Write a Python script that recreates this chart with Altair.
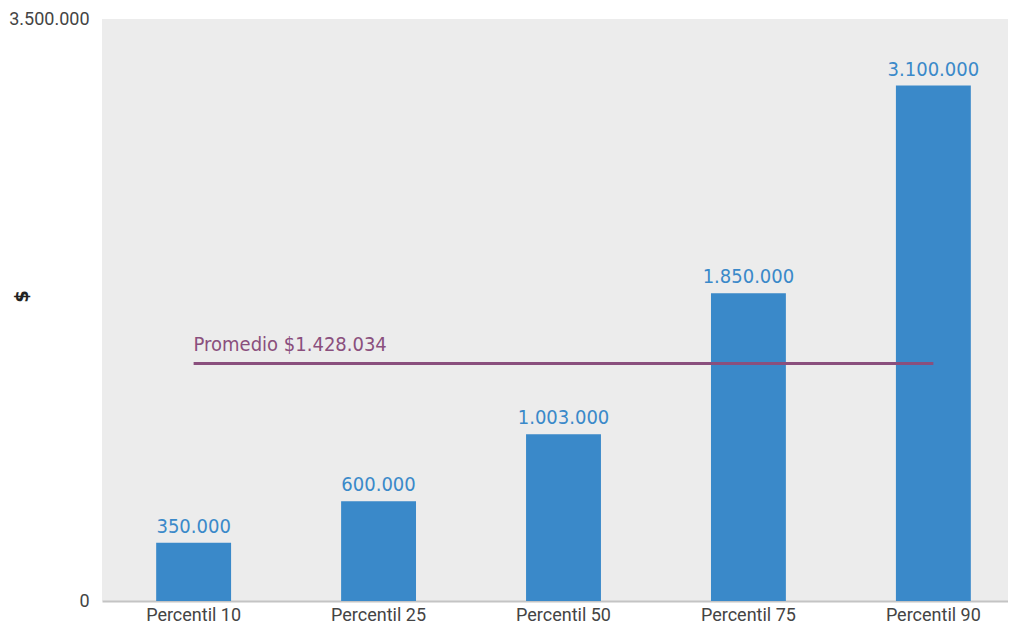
import altair as alt
import pandas as pd

categories = ["Percentil 10", "Percentil 25", "Percentil 50", "Percentil 75", "Percentil 90"]
values = [350000, 600000, 1003000, 1850000, 3100000]
mean_value = 1428034
mean_label = "Promedio $1.428.034"
y_ticks = [0, 3500000]

df = pd.DataFrame({"cat": categories, "val": values})
df["lbl"] = [f"{v:,}".replace(",", ".") for v in values]
mean_df = pd.DataFrame({"cat": [categories[0]], "cat2": [categories[-1]], "val": [mean_value], "lbl": [mean_label]})

BLUE = "#3a89c9"
PURPLE = "#8a4f7d"
COND = "'DejaVu Sans Condensed', 'Roboto Condensed', 'Liberation Sans Narrow', 'Noto Sans', sans-serif"

xscale = alt.Scale(domain=categories, paddingInner=0.595, paddingOuter=0.247, align=0.593)
yscale = alt.Scale(domain=[0, 3500000], nice=False)

x_axis = alt.Axis(labelAngle=0, ticks=False, domainColor="#c4c4c4", domainWidth=2,
                  labelFontSize=18, labelColor="#444444", labelFont="Roboto", labelPadding=5)
y_axis = alt.Axis(values=y_ticks, labelExpr="datum.value == 0 ? '0' : replace(replace(format(datum.value, ','), ',', '.'), ',', '.')",
                  grid=False, ticks=False, domain=False,
                  labelFontSize=18, labelColor="#444444", labelFont="Roboto", labelPadding=13,
                  titleFontSize=18, titleColor="#222222", titleFont="DejaVu Sans", titleFontWeight="bold",
                  titleX=-80, titleY=277, titleAngle=270, titleAlign="center", titleBaseline="middle")

X = alt.X("cat:N", sort=categories, title=None, scale=xscale, axis=x_axis)
Y = alt.Y("val:Q", title="$", scale=yscale, axis=y_axis)

bars = alt.Chart(df).mark_bar(color=BLUE).encode(x=X, y=Y)
texts = alt.Chart(df).mark_text(color=BLUE, font=COND, fontSize=20, baseline="bottom", dy=-6).encode(
    x=X, y=Y, text="lbl:N")

rule = alt.Chart(mean_df).mark_rule(color=PURPLE, strokeWidth=3).encode(x=X, x2="cat2:N", y=Y)
mean_text = alt.Chart(mean_df).mark_text(color=PURPLE, font=COND, fontSize=20, align="left",
                                         baseline="bottom", dy=-9, dx=0).encode(x=X, y=Y, text="lbl:N")

chart = alt.layer(bars, texts, rule, mean_text).properties(
    width=906, height=582, background="white",
    padding={"left": 0, "top": 2, "right": 0, "bottom": 0}
).configure_view(fill="#ececec", stroke=None)

chart.save("out.html", embed_options={"renderer": "svg", "actions": False})
